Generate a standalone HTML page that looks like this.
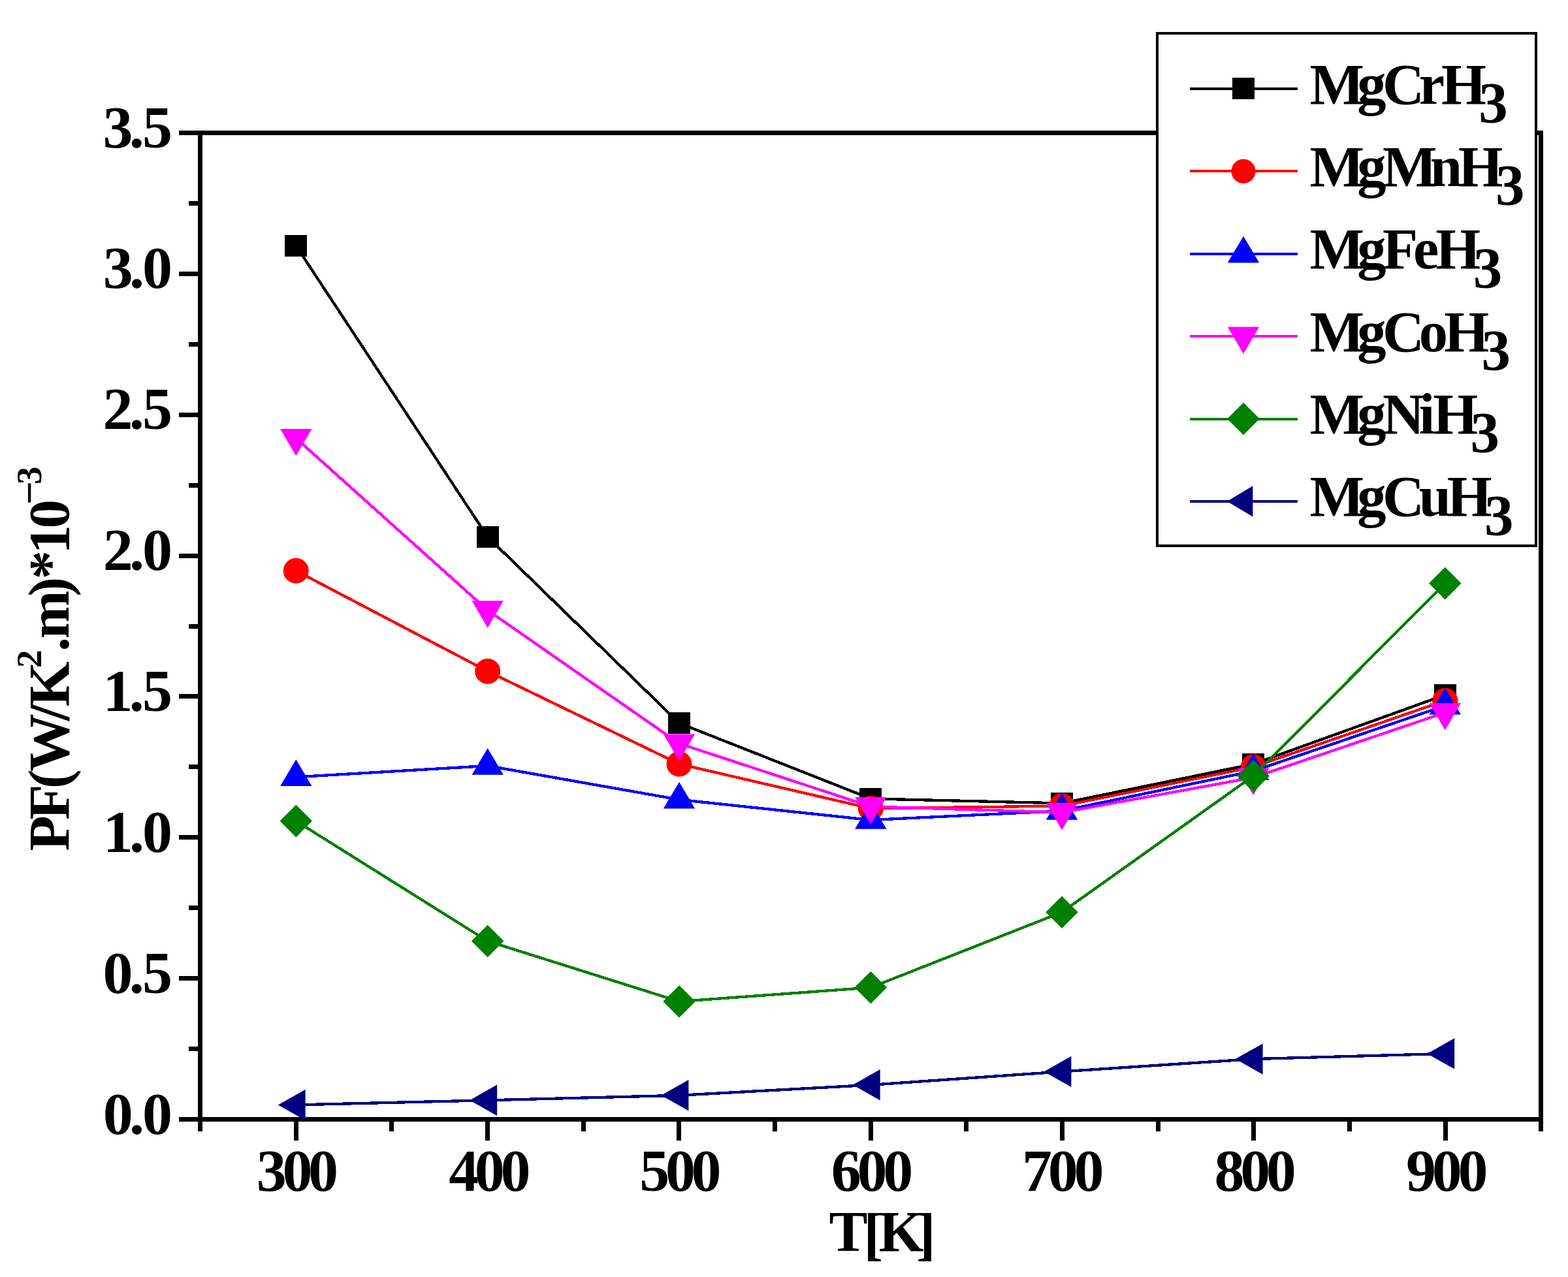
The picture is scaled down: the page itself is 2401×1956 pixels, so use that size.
<!DOCTYPE html>
<html lang="en">
<head>
<meta charset="utf-8">
<title>PF vs T</title>
<style>
html,body{margin:0;padding:0;background:#fff;}
body{width:2401px;height:1956px;overflow:hidden;}
svg{display:block;}
svg rect,svg polyline{shape-rendering:crispEdges;}
svg text{font-family:"Liberation Serif","Times New Roman",Times,serif;font-weight:bold;white-space:pre;}
</style>
</head>
<body>
<svg width="2401" height="1956" viewBox="0 0 2401 1956">
<rect x="0" y="0" width="2401" height="1956" fill="#fff"/>
<g fill="#000">
<rect x="274" y="200" width="2089" height="7"/>
<rect x="274" y="1711" width="2089" height="7"/>
<rect x="303" y="200" width="7" height="1533"/>
<rect x="2356" y="200" width="7" height="1533"/>
<rect x="289" y="1603" width="14" height="7"/>
<rect x="274" y="1495" width="29" height="7"/>
<rect x="289" y="1387" width="14" height="7"/>
<rect x="274" y="1279" width="29" height="7"/>
<rect x="289" y="1171" width="14" height="7"/>
<rect x="274" y="1063" width="29" height="7"/>
<rect x="289" y="956" width="14" height="7"/>
<rect x="274" y="848" width="29" height="7"/>
<rect x="289" y="740" width="14" height="7"/>
<rect x="274" y="632" width="29" height="7"/>
<rect x="289" y="524" width="14" height="7"/>
<rect x="274" y="416" width="29" height="7"/>
<rect x="289" y="308" width="14" height="7"/>
<rect x="450" y="1718" width="7" height="29"/>
<rect x="596" y="1718" width="7" height="15"/>
<rect x="743" y="1718" width="7" height="29"/>
<rect x="890" y="1718" width="7" height="15"/>
<rect x="1036" y="1718" width="7" height="29"/>
<rect x="1183" y="1718" width="7" height="15"/>
<rect x="1330" y="1718" width="7" height="29"/>
<rect x="1476" y="1718" width="7" height="15"/>
<rect x="1623" y="1718" width="7" height="29"/>
<rect x="1770" y="1718" width="7" height="15"/>
<rect x="1916" y="1718" width="7" height="29"/>
<rect x="2063" y="1718" width="7" height="15"/>
<rect x="2210" y="1718" width="7" height="29"/>
</g>
<polyline fill="none" stroke="#000000" stroke-width="4.3" points="453.3,376.5 746.7,822.4 1040,1107.6 1333.3,1223.4 1626,1230.4 1919.2,1170.3 2212.8,1064.4"/>
<rect x="436" y="360" width="34" height="33" fill="#000000"/>
<rect x="730" y="806" width="34" height="33" fill="#000000"/>
<rect x="1023" y="1091" width="34" height="33" fill="#000000"/>
<rect x="1316" y="1207" width="34" height="33" fill="#000000"/>
<rect x="1609" y="1214" width="34" height="33" fill="#000000"/>
<rect x="1902" y="1154" width="34" height="33" fill="#000000"/>
<rect x="2196" y="1048" width="34" height="33" fill="#000000"/>
<polyline fill="none" stroke="#ff0000" stroke-width="4.3" points="453.3,874.2 746.7,1028.2 1040,1170.2 1333.3,1238.3 1626,1234.5 1919.2,1174.7 2212.8,1073.2"/>
<circle cx="453.3" cy="874.2" r="19.5" fill="#ff0000"/>
<circle cx="746.7" cy="1028.2" r="19.5" fill="#ff0000"/>
<circle cx="1040" cy="1170.2" r="19.5" fill="#ff0000"/>
<circle cx="1333.3" cy="1238.3" r="19.5" fill="#ff0000"/>
<circle cx="1626" cy="1234.5" r="19.5" fill="#ff0000"/>
<circle cx="1919.2" cy="1174.7" r="19.5" fill="#ff0000"/>
<circle cx="2212.8" cy="1073.2" r="19.5" fill="#ff0000"/>
<polyline fill="none" stroke="#0000ff" stroke-width="4.3" points="453.3,1190.2 746.7,1173 1040,1224.8 1333.3,1256 1626,1242 1919.2,1181 2212.8,1080.9"/>
<polygon points="453.3,1163.2 477.5,1203.9 429.1,1203.9" fill="#0000ff"/>
<polygon points="746.7,1146 770.9,1186.7 722.5,1186.7" fill="#0000ff"/>
<polygon points="1040,1197.8 1064.2,1238.5 1015.8,1238.5" fill="#0000ff"/>
<polygon points="1333.3,1229 1357.5,1269.7 1309.1,1269.7" fill="#0000ff"/>
<polygon points="1626,1215 1650.2,1255.7 1601.8,1255.7" fill="#0000ff"/>
<polygon points="1919.2,1154 1943.4,1194.7 1895,1194.7" fill="#0000ff"/>
<polygon points="2212.8,1053.9 2237,1094.6 2188.6,1094.6" fill="#0000ff"/>
<polyline fill="none" stroke="#ff00ff" stroke-width="4.3" points="453.3,671.3 746.7,934.7 1040,1138.8 1333.3,1235.4 1626,1244.4 1919.2,1191 2212.8,1091.5"/>
<polygon points="453.3,698.3 477.5,656.9 429.1,656.9" fill="#ff00ff"/>
<polygon points="746.7,961.7 770.9,920.3 722.5,920.3" fill="#ff00ff"/>
<polygon points="1040,1165.8 1064.2,1124.4 1015.8,1124.4" fill="#ff00ff"/>
<polygon points="1333.3,1262.4 1357.5,1221 1309.1,1221" fill="#ff00ff"/>
<polygon points="1626,1271.4 1650.2,1230 1601.8,1230" fill="#ff00ff"/>
<polygon points="1919.2,1218 1943.4,1176.6 1895,1176.6" fill="#ff00ff"/>
<polygon points="2212.8,1118.5 2237,1077.1 2188.6,1077.1" fill="#ff00ff"/>
<polyline fill="none" stroke="#008000" stroke-width="4.3" points="453.3,1257.6 746.7,1441.5 1040,1534 1333.3,1512.6 1626,1397.3 1919.2,1188.5 2212.8,893.6"/>
<polygon points="453.3,1232.8 478.1,1257.6 453.3,1282.4 428.5,1257.6" fill="#008000"/>
<polygon points="746.7,1416.7 771.5,1441.5 746.7,1466.3 721.9,1441.5" fill="#008000"/>
<polygon points="1040,1509.2 1064.8,1534 1040,1558.8 1015.2,1534" fill="#008000"/>
<polygon points="1333.3,1487.8 1358.1,1512.6 1333.3,1537.4 1308.5,1512.6" fill="#008000"/>
<polygon points="1626,1372.5 1650.8,1397.3 1626,1422.1 1601.2,1397.3" fill="#008000"/>
<polygon points="1919.2,1163.7 1944,1188.5 1919.2,1213.3 1894.4,1188.5" fill="#008000"/>
<polygon points="2212.8,868.8 2237.6,893.6 2212.8,918.4 2188,893.6" fill="#008000"/>
<polyline fill="none" stroke="#000080" stroke-width="4.3" points="453.3,1692.4 746.7,1685.3 1040,1677.8 1333.3,1661.8 1626,1641.4 1919.2,1622.1 2212.8,1613.9"/>
<polygon points="425.8,1692.4 467.7,1668.7 467.7,1716.1" fill="#000080"/>
<polygon points="719.2,1685.3 761.1,1661.6 761.1,1709" fill="#000080"/>
<polygon points="1012.5,1677.8 1054.4,1654.1 1054.4,1701.5" fill="#000080"/>
<polygon points="1305.8,1661.8 1347.7,1638.1 1347.7,1685.5" fill="#000080"/>
<polygon points="1598.5,1641.4 1640.4,1617.7 1640.4,1665.1" fill="#000080"/>
<polygon points="1891.7,1622.1 1933.6,1598.4 1933.6,1645.8" fill="#000080"/>
<polygon points="2185.3,1613.9 2227.2,1590.2 2227.2,1637.6" fill="#000080"/>
<g fill="#000">
<text x="157.73 197.98 218.1" y="1736.5" font-size="92">0.0</text>
<text x="157.59 197.84 217.97" y="1520.64" font-size="92">0.5</text>
<text x="157.73 197.98 218.1" y="1304.79" font-size="92">1.0</text>
<text x="157.59 197.84 217.97" y="1088.93" font-size="92">1.5</text>
<text x="157.73 197.98 218.1" y="873.07" font-size="92">2.0</text>
<text x="157.59 197.84 217.97" y="657.21" font-size="92">2.5</text>
<text x="157.73 197.98 218.1" y="441.36" font-size="92">3.0</text>
<text x="157.59 197.84 217.97" y="225.5" font-size="92">3.5</text>
<text x="392.73 432.38 472.03" y="1824.3" font-size="92">300</text>
<text x="687.14 726.79 766.44" y="1824.3" font-size="92">400</text>
<text x="979.25 1018.9 1058.55" y="1824.3" font-size="92">500</text>
<text x="1272.83 1312.48 1352.13" y="1824.3" font-size="92">600</text>
<text x="1565.09 1604.74 1644.39" y="1824.3" font-size="92">700</text>
<text x="1859.5 1899.15 1938.8" y="1824.3" font-size="92">800</text>
<text x="2153.09 2192.74 2232.39" y="1824.3" font-size="92">900</text>
<text x="1269.62" y="1916" font-size="88.6">T</text>
<text x="1322.42" y="1919.8" font-size="88.6">[</text>
<text x="1345.59" y="1916" font-size="88.6">K</text>
<text x="1403.07" y="1919.8" font-size="88.6">]</text>
</g>
<g transform="translate(104.6 1301.9) rotate(-90)" fill="#000">
<text x="-1.52 46.19 93.89 119.9 198 219.7" y="0" font-size="89">PF(W/K</text>
<text x="278.99" y="-42" font-size="55">2</text>
<text x="303.79 323.31 388.37 414.38 453.43 492.48" y="0" font-size="89">.m)*10</text>
<text x="529.28" y="-38.5" font-size="63">−</text>
<text x="560.03" y="-42" font-size="55">3</text>
</g>
<rect x="1770" y="49" width="584" height="789" fill="#000"/>
<rect x="1774" y="53" width="576" height="781" fill="#fff"/>
<rect x="1822" y="134" width="165" height="4" fill="#000000"/>
<rect x="1887" y="119" width="34" height="33" fill="#000000"/>
<text x="2005.49 2078.35 2116.95 2172.7 2206.97" y="158.7" font-size="88.6">MgCrH</text>
<text x="2264.27" y="187.1" font-size="89">3</text>
<rect x="1822" y="260" width="165" height="4" fill="#ff0000"/>
<circle cx="1904" cy="262.3" r="18.6" fill="#ff0000"/>
<text x="2005.49 2078.35 2116.95 2189.82 2232.75" y="285" font-size="88.6">MgMnH</text>
<text x="2290.05" y="313.4" font-size="89">3</text>
<rect x="1822" y="387" width="165" height="4" fill="#0000ff"/>
<polygon points="1904,361.7 1928.2,402.4 1879.8,402.4" fill="#0000ff"/>
<text x="2005.49 2078.35 2116.95 2164.11 2198.37" y="411.3" font-size="88.6">MgFeH</text>
<text x="2255.67" y="439.7" font-size="89">3</text>
<rect x="1822" y="513" width="165" height="4" fill="#ff00ff"/>
<polygon points="1904,542.1 1928.2,500.7 1879.8,500.7" fill="#ff00ff"/>
<text x="2005.49 2078.35 2116.95 2172.7 2211.3" y="537.6" font-size="88.6">MgCoH</text>
<text x="2268.6" y="566" font-size="89">3</text>
<rect x="1822" y="640" width="165" height="4" fill="#008000"/>
<polygon points="1904,616.7 1928.8,641.5 1904,666.3 1879.2,641.5" fill="#008000"/>
<text x="2005.49 2078.35 2116.95 2172.7 2194.15" y="663.9" font-size="88.6">MgNiH</text>
<text x="2251.45" y="692.3" font-size="89">3</text>
<rect x="1822" y="766" width="165" height="4" fill="#000080"/>
<polygon points="1879,767.9 1918.4,744.2 1918.4,791.6" fill="#000080"/>
<text x="2005.49 2078.35 2116.95 2172.7 2215.64" y="790.2" font-size="88.6">MgCuH</text>
<text x="2272.94" y="818.6" font-size="89">3</text>
</svg>
</body>
</html>
